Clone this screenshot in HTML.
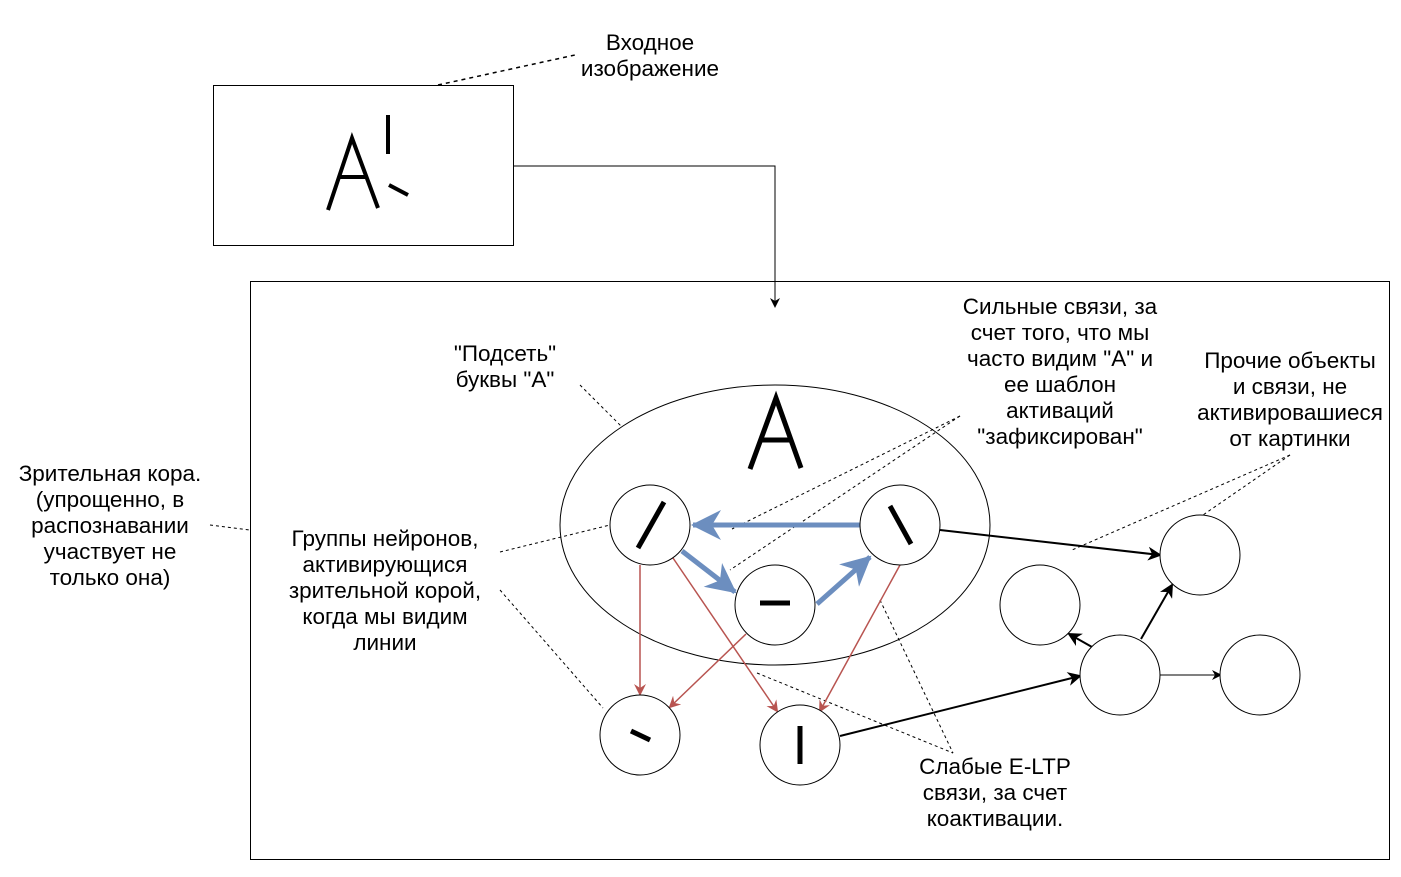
<!DOCTYPE html>
<html><head><meta charset="utf-8"><style>
html,body{margin:0;padding:0;background:#fff;}
svg text{font-family:"Liberation Sans",sans-serif;font-size:22.5px;fill:#000;text-anchor:middle;}
</style></head><body>
<svg width="1401" height="872" viewBox="0 0 1401 872" xmlns="http://www.w3.org/2000/svg">
<defs>
<marker id="ab" markerWidth="10" markerHeight="10" refX="8" refY="5" orient="auto" markerUnits="userSpaceOnUse"><path d="M0,0 L10,5 L0,10 L3,5 Z" fill="#000"/></marker>
<marker id="ar" markerWidth="12" markerHeight="12" refX="10" refY="6" orient="auto" markerUnits="userSpaceOnUse"><path d="M0,0 L12,6 L0,12 L4,6 Z" fill="#b85450"/></marker>
<marker id="au" markerWidth="32" markerHeight="30" refX="28" refY="15" orient="auto" markerUnits="userSpaceOnUse"><path d="M0,0 L30,15 L0,30 L9,15 Z" fill="#6c8ebf"/></marker>
<marker id="ak" markerWidth="14" markerHeight="14" refX="12" refY="7" orient="auto" markerUnits="userSpaceOnUse"><path d="M0,0 L14,7 L0,14 L4,7 Z" fill="#000"/></marker>
</defs>
<rect x="213.5" y="85.5" width="300" height="160" fill="#fff" stroke="#000" stroke-width="1"/>
<g stroke="#000" stroke-width="4" fill="none">
<polyline points="328,210 352,138 378,208"/>
<line x1="340" y1="177" x2="366" y2="177"/>
<line x1="388" y1="115" x2="388" y2="154"/>
<line x1="389" y1="185" x2="408" y2="195"/>
</g>
<line x1="438" y1="85" x2="575" y2="55" stroke="#000" stroke-width="1.5" stroke-dasharray="4,4"/>
<polyline points="513,166 775,166 775,306" fill="none" stroke="#000" stroke-width="1" marker-end="url(#ab)"/>
<rect x="250.5" y="281.5" width="1139" height="578" fill="none" stroke="#000" stroke-width="1"/>
<ellipse cx="775" cy="525" rx="215" ry="140" fill="none" stroke="#000" stroke-width="1"/>
<g stroke="#000" stroke-width="5" fill="none">
<polyline points="750,469 776,398 801,468"/>
<line x1="760" y1="440" x2="792" y2="440"/>
</g>
<g stroke="#000" stroke-width="1" stroke-dasharray="3,3" fill="none">
<line x1="580" y1="385" x2="622" y2="427"/>
<line x1="960" y1="416" x2="732" y2="529"/>
<line x1="960" y1="416" x2="730" y2="570"/>
<line x1="500" y1="552" x2="610" y2="525"/>
<line x1="500" y1="590" x2="603" y2="708"/>
<line x1="757" y1="673" x2="953" y2="753"/>
<line x1="880" y1="600" x2="953" y2="753"/>
<line x1="1290" y1="455" x2="1072" y2="550"/>
<line x1="1290" y1="455" x2="1203" y2="515"/>
<line x1="210" y1="525" x2="250" y2="530"/>
</g>
<g stroke="#b85450" stroke-width="1.5" fill="none">
<line x1="640" y1="565" x2="640" y2="694" marker-end="url(#ar)"/>
<line x1="673" y1="558" x2="777" y2="711" marker-end="url(#ar)"/>
<line x1="746" y1="634" x2="670" y2="707" marker-end="url(#ar)"/>
<line x1="900" y1="565" x2="820" y2="711" marker-end="url(#ar)"/>
</g>
<g stroke="#6c8ebf" stroke-width="5" fill="none">
<line x1="860" y1="525" x2="693" y2="525" marker-end="url(#au)"/>
<line x1="682" y1="551" x2="735" y2="592" marker-end="url(#au)"/>
<line x1="817" y1="604" x2="870" y2="557" marker-end="url(#au)"/>
</g>
<g stroke="#000" stroke-width="2" fill="none">
<line x1="940" y1="530" x2="1160" y2="555" marker-end="url(#ak)"/>
<line x1="840" y1="736" x2="1080" y2="676" marker-end="url(#ak)"/>
<line x1="1141" y1="639" x2="1172" y2="585" marker-end="url(#ak)"/>
<line x1="1092" y1="647" x2="1069" y2="634" marker-end="url(#ak)"/>
</g>
<line x1="1160" y1="675" x2="1220" y2="675" stroke="#000" stroke-width="1" marker-end="url(#ab)"/>
<g fill="#fff" stroke="#000" stroke-width="1">
<circle cx="650" cy="525" r="40"/>
<circle cx="900" cy="525" r="40"/>
<circle cx="775" cy="605" r="40"/>
<circle cx="640" cy="735" r="40"/>
<circle cx="800" cy="745" r="40"/>
<circle cx="1200" cy="555" r="40"/>
<circle cx="1040" cy="605" r="40"/>
<circle cx="1120" cy="675" r="40"/>
<circle cx="1260" cy="675" r="40"/>
</g>
<g stroke="#000" stroke-width="5">
<line x1="638" y1="548" x2="664" y2="502"/>
<line x1="890" y1="506" x2="911" y2="544"/>
<line x1="760" y1="603" x2="790" y2="603"/>
<line x1="631" y1="731" x2="650" y2="740"/>
<line x1="800" y1="726" x2="800" y2="764"/>
</g>
<text x="650" y="50">Входное</text>
<text x="650" y="76">изображение</text>
<text x="1060" y="314">Сильные связи, за</text>
<text x="1060" y="340">счет того, что мы</text>
<text x="1060" y="366">часто видим "А" и</text>
<text x="1060" y="392">ее шаблон</text>
<text x="1060" y="418">активаций</text>
<text x="1060" y="444">"зафиксирован"</text>
<text x="505" y="361">"Подсеть"</text>
<text x="505" y="387">буквы "А"</text>
<text x="1290" y="368">Прочие объекты</text>
<text x="1290" y="394">и связи, не</text>
<text x="1290" y="420">активировашиеся</text>
<text x="1290" y="446">от картинки</text>
<text x="110" y="481">Зрительная кора.</text>
<text x="110" y="507">(упрощенно, в</text>
<text x="110" y="533">распознавании</text>
<text x="110" y="559">участвует не</text>
<text x="110" y="585">только она)</text>
<text x="385" y="546">Группы нейронов,</text>
<text x="385" y="572">активирующися</text>
<text x="385" y="598">зрительной корой,</text>
<text x="385" y="624">когда мы видим</text>
<text x="385" y="650">линии</text>
<text x="995" y="774">Слабые E-LTP</text>
<text x="995" y="800">связи, за счет</text>
<text x="995" y="826">коактивации.</text>
</svg>
</body></html>
